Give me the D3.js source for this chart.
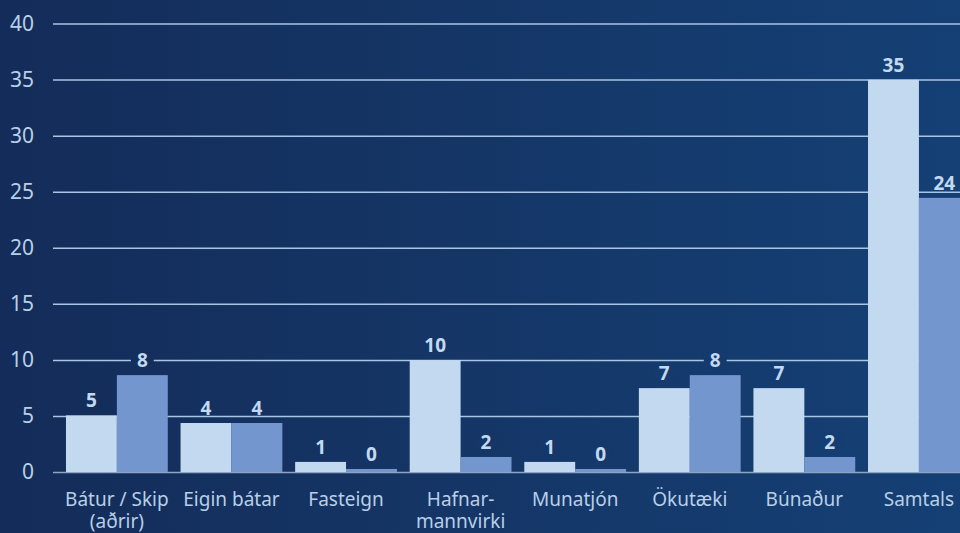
<!DOCTYPE html>
<html lang="is">
<head>
  <meta charset="UTF-8">
  <title>Tjón eftir flokkum</title>
  <style>
    html, body { margin: 0; padding: 0; overflow: hidden; }
    svg { display: block; }
    svg text { font-family: "Noto Sans", "Open Sans", sans-serif; }
  </style>
</head>
<body>
  <svg id="chart" width="960" height="533"></svg>

  <script src="https://d3js.org/d3.v7.min.js"></script>
  <script>
    // categories (line breaks with |)
    const categories = ["Bátur / Skip|(aðrir)", "Eigin bátar", "Fasteign", "Hafnar-|mannvirki",
                        "Munatjón", "Ökutæki", "Búnaður", "Samtals"];
    // bar heights as drawn
    const seriesA = [5.05, 4.37, 0.9, 9.98, 0.9, 7.48, 7.48, 34.98];
    const seriesB = [8.64, 4.37, 0.27, 1.34, 0.27, 8.64, 1.34, 24.45];
    // labels shown above bars
    const labelsA = ["5", "4", "1", "10", "1", "7", "7", "35"];
    const labelsB = ["8", "4", "0", "2", "0", "8", "2", "24"];
    const yTicks = [0, 5, 10, 15, 20, 25, 30, 35, 40];

    const W = 960, H = 533;
    const bgLeft = "#142c59", bgRight = "#154075";
    const colA = "#c2d9f0", colB = "#7396cf";

    const svg = d3.select("#chart");

    const defs = svg.append("defs");
    const grad = defs.append("linearGradient").attr("id", "bg")
      .attr("x1", "0").attr("y1", "0").attr("x2", "1").attr("y2", "0");
    grad.append("stop").attr("offset", "0").attr("stop-color", bgLeft);
    grad.append("stop").attr("offset", "1").attr("stop-color", bgRight);
    svg.append("rect").attr("width", W).attr("height", H).attr("fill", "url(#bg)");
    const bgAt = d3.interpolateRgb(bgLeft, bgRight);

    const y = d3.scaleLinear().domain([0, 40]).range([472, 23.5]);

    const x0 = d3.scaleBand()
      .domain(categories)
      .range([59.6, 976.2])
      .paddingInner(0.1115)
      .paddingOuter(0.0557);

    const x1 = d3.scaleBand().domain(["a", "b"]).range([0, x0.bandwidth()]).padding(0);

    // gridlines + y labels
    const gx = 53;
    const yAxis = svg.append("g")
      .attr("transform", `translate(${gx},0)`)
      .call(d3.axisLeft(y).tickValues(yTicks).tickSize(-(W - gx)).tickPadding(19));
    yAxis.attr("font-family", null).attr("font-size", null);
    yAxis.select(".domain").remove();
    yAxis.selectAll(".tick line")
      .attr("stroke", d => d === 0 ? "#8ea4c2" : "#a9c5e6")
      .attr("stroke-width", 1.5);
    yAxis.selectAll(".tick text")
      .attr("fill", "#b9cfe8")
      .style("font-size", "21px");

    const rows = categories.map((c, i) => ({
      cat: c,
      bars: [
        { key: "a", v: seriesA[i], lab: labelsA[i] },
        { key: "b", v: seriesB[i], lab: labelsB[i] }
      ]
    }));

    const groups = svg.append("g").selectAll("g")
      .data(rows)
      .enter().append("g")
      .attr("transform", d => `translate(${x0(d.cat)},0)`);

    groups.selectAll("rect")
      .data(d => d.bars)
      .enter().append("rect")
      .attr("x", d => x1(d.key))
      .attr("y", d => y(d.v))
      .attr("width", x1.bandwidth())
      .attr("height", d => y(0) - y(d.v))
      .attr("fill", d => d.key === "a" ? colA : colB);

    // value labels, each on a small box of background colour that cuts the gridlines
    groups.each(function (row) {
      const gx0 = x0(row.cat);
      const g = d3.select(this);
      row.bars.forEach(d => {
        const cx = x1(d.key) + x1.bandwidth() / 2;
        const by = y(d.v) - 8;
        const box = g.append("rect")
          .attr("fill", bgAt((gx0 + cx) / W));
        const t = g.append("text")
          .attr("x", cx)
          .attr("y", by)
          .attr("text-anchor", "middle")
          .attr("fill", colA)
          .style("font-size", "19px")
          .style("font-weight", "bold")
          .text(d.lab);
        const w = t.node().getComputedTextLength();
        box.attr("x", cx - w / 2 - 6).attr("width", w + 12)
          .attr("y", by - 15).attr("height", 14);
      });
    });

    // category labels
    const xAxis = svg.append("g")
      .attr("transform", `translate(0,${y(0)})`)
      .call(d3.axisBottom(x0).tickSize(0).tickFormat(""));
    xAxis.attr("font-family", null).attr("font-size", null);
    xAxis.select(".domain").remove();

    xAxis.selectAll(".tick").append("text")
      .attr("fill", "#b9cfe8")
      .attr("text-anchor", "middle")
      .style("font-size", "19px")
      .each(function (d) {
        const parts = d.split("|");
        const t = d3.select(this);
        parts.forEach((p, i) => {
          t.append("tspan").attr("x", 0).attr("y", 34 + i * 22).text(p);
        });
      });
  </script>
</body>
</html>
